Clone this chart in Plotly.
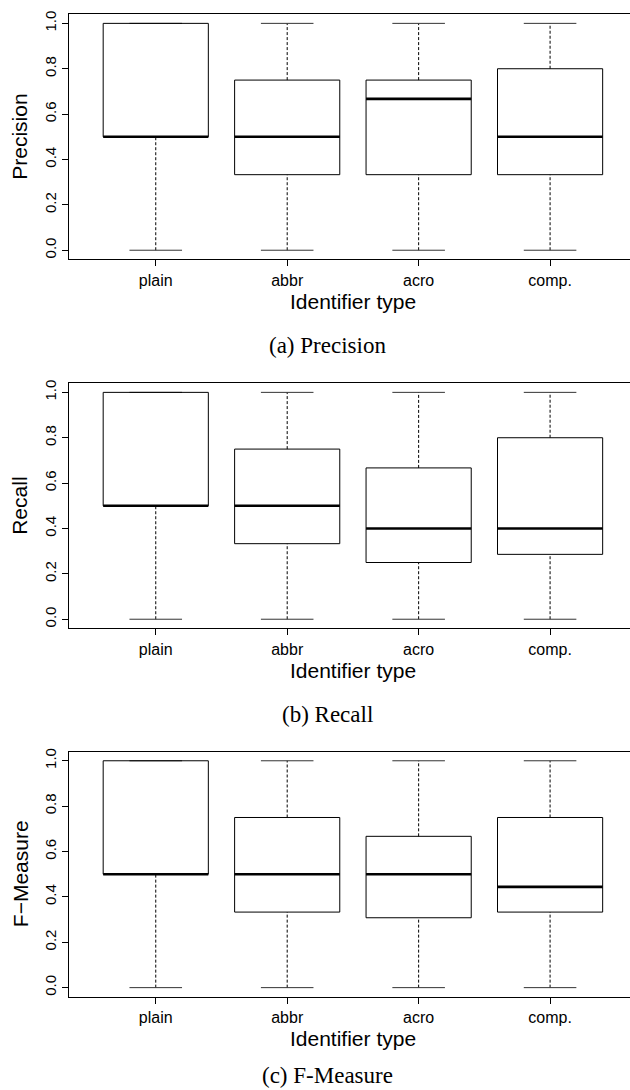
import plotly.graph_objects as go

categories = ["plain", "abbr", "acro", "comp."]
y_titles = ["Precision", "Recall", "F\u2212Measure"]
captions = ["(a) Precision", "(b) Recall", "(c) F-Measure"]
x_title = "Identifier type"
y_ticks = [0.0, 0.2, 0.4, 0.6, 0.8, 1.0]

precision_min = [0.0, 0.0, 0.0, 0.0]
precision_q1 = [0.5, 0.333, 0.333, 0.333]
precision_med = [0.5, 0.5, 0.667, 0.5]
precision_q3 = [1.0, 0.75, 0.75, 0.8]
precision_max = [1.0, 1.0, 1.0, 1.0]

recall_min = [0.0, 0.0, 0.0, 0.0]
recall_q1 = [0.5, 0.333, 0.25, 0.286]
recall_med = [0.5, 0.5, 0.4, 0.4]
recall_q3 = [1.0, 0.75, 0.667, 0.8]
recall_max = [1.0, 1.0, 1.0, 1.0]

fmeasure_min = [0.0, 0.0, 0.0, 0.0]
fmeasure_q1 = [0.5, 0.333, 0.308, 0.333]
fmeasure_med = [0.5, 0.5, 0.5, 0.444]
fmeasure_q3 = [1.0, 0.75, 0.667, 0.75]
fmeasure_max = [1.0, 1.0, 1.0, 1.0]

panels = [
    (precision_min, precision_q1, precision_med, precision_q3, precision_max),
    (recall_min, recall_q1, recall_med, recall_q3, recall_max),
    (fmeasure_min, fmeasure_q1, fmeasure_med, fmeasure_q3, fmeasure_max),
]

W, H = 630, 1090
plot_left = 69.0
panel_tops = [14.3, 383.3, 751.7]
panel_h = 245.0
box_half = 0.4
cap_half = 0.2
caption_size = 23

SANS = "Liberation Sans, Arial, Helvetica, sans-serif"
SERIF = "Liberation Serif, Times New Roman, serif"

fig = go.Figure()
annotations = []
layout_axes = {}

for k, (mn, q1, md, q3, mx) in enumerate(panels):
    sfx = "" if k == 0 else str(k + 1)
    xref, yref = "x" + sfx, "y" + sfx
    pos = list(range(1, len(categories) + 1))

    bx, by, mxs, mys, wx, wy, cx, cy = [], [], [], [], [], [], [], []
    for i, p in enumerate(pos):
        bx += [p - box_half, p + box_half, p + box_half, p - box_half, p - box_half, None]
        by += [q1[i], q1[i], q3[i], q3[i], q1[i], None]
        mxs += [p - box_half, p + box_half, None]
        mys += [md[i], md[i], None]
        wx += [p, p, None, p, p, None]
        wy += [mn[i], q1[i], None, q3[i], mx[i], None]
        cx += [p - cap_half, p + cap_half, None, p - cap_half, p + cap_half, None]
        cy += [mn[i], mn[i], None, mx[i], mx[i], None]

    common = dict(xaxis=xref, yaxis=yref, mode="lines", hoverinfo="skip", showlegend=False)
    fig.add_trace(go.Scatter(x=wx, y=wy, line=dict(color="black", width=1, dash="3px,2px"), **common))
    fig.add_trace(go.Scatter(x=cx, y=cy, line=dict(color="#333333", width=1), **common))
    fig.add_trace(go.Scatter(x=bx, y=by, line=dict(color="black", width=1), **common))
    fig.add_trace(go.Scatter(x=mxs, y=mys, line=dict(color="black", width=2.6), **common))

    top = panel_tops[k]
    bot = top + panel_h
    layout_axes["xaxis" + sfx] = dict(
        domain=[plot_left / W, 1.0], anchor=yref, range=[0.34, 4.608],
        tickvals=pos, ticktext=categories, ticks="outside", ticklen=6,
        tickcolor="black", tickwidth=1, showline=True, linecolor="black",
        linewidth=1, mirror=True, showgrid=False, zeroline=False,
        tickfont=dict(family=SANS, size=16, color="black"), automargin=False,
    )
    layout_axes["yaxis" + sfx] = dict(
        domain=[1 - bot / H, 1 - top / H], anchor=xref, range=[-0.04, 1.04],
        tickvals=y_ticks, ticktext=["%.1f" % v for v in y_ticks], ticks="outside",
        ticklen=6, tickcolor="black", tickwidth=1, showline=True, linecolor="black",
        linewidth=1, mirror=False, showgrid=False, zeroline=False, tickangle=-90,
        tickfont=dict(family=SANS, size=15, color="black"), automargin=False,
    )
    annotations.append(dict(
        text=y_titles[k], textangle=-90, xref="paper", yref="paper",
        x=20 / W, y=1 - (top + panel_h / 2) / H, xanchor="center", yanchor="middle",
        showarrow=False, font=dict(family=SANS, size=21, color="black"),
    ))
    annotations.append(dict(
        text=x_title, xref="paper", yref="paper",
        x=(plot_left + 636.7) / 2 / W, y=1 - (bot + 42) / H, xanchor="center", yanchor="middle",
        showarrow=False, font=dict(family=SANS, size=21, color="black"),
    ))
    cap_bottom = min(bot + 85 + 16, H)
    annotations.append(dict(
        text=captions[k], xref="paper", yref="paper",
        x=327 / W, y=1 - cap_bottom / H, xanchor="center", yanchor="bottom",
        showarrow=False, font=dict(family=SERIF, size=caption_size, color="black"),
    ))

fig.update_layout(
    width=W, height=H, margin=dict(l=0, r=0, t=0, b=0),
    paper_bgcolor="white", plot_bgcolor="white", showlegend=False,
    annotations=annotations, **layout_axes,
)

fig.write_html("out.html")
